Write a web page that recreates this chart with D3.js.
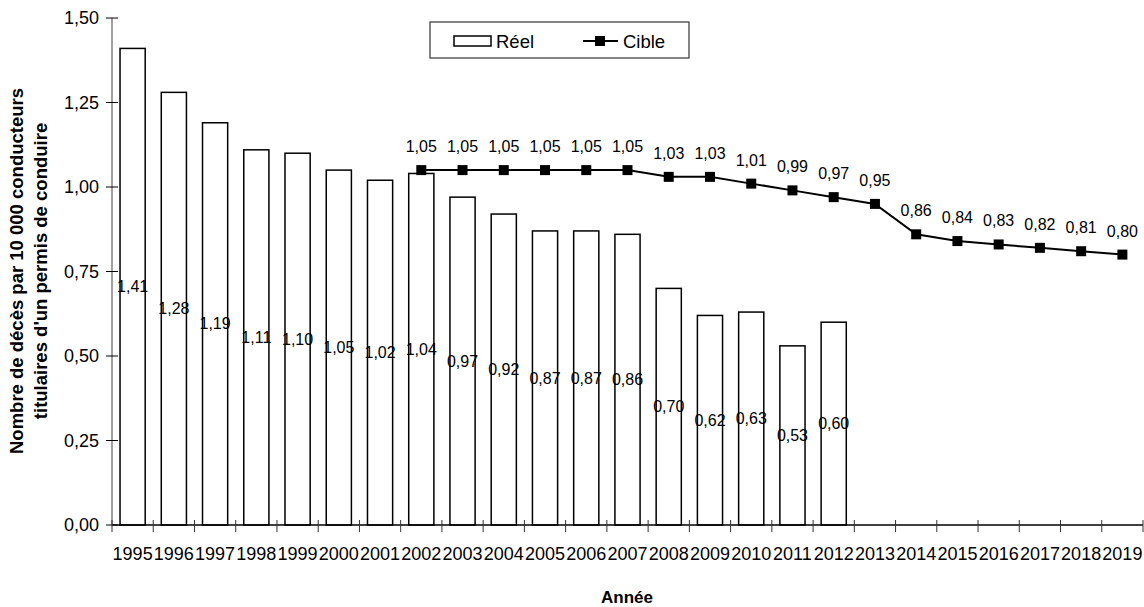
<!DOCTYPE html>
<html>
<head>
<meta charset="utf-8">
<script src="https://cdn.jsdelivr.net/npm/d3@7/dist/d3.min.js"></script>
<style>
  body { margin: 0; background: #fff; }
  svg { display: block; font-family: "Liberation Sans", Arial, sans-serif; }
</style>
</head>
<body>
<svg id="chart" width="1144" height="607"></svg>
<script>
const years = ["1995","1996","1997","1998","1999","2000","2001","2002","2003","2004","2005","2006","2007","2008","2009","2010","2011","2012","2013","2014","2015","2016","2017","2018","2019"];
const reelYears = ["1995","1996","1997","1998","1999","2000","2001","2002","2003","2004","2005","2006","2007","2008","2009","2010","2011","2012"];
const reelValues = [1.41,1.28,1.19,1.11,1.10,1.05,1.02,1.04,0.97,0.92,0.87,0.87,0.86,0.70,0.62,0.63,0.53,0.60];
const cibleYears = ["2002","2003","2004","2005","2006","2007","2008","2009","2010","2011","2012","2013","2014","2015","2016","2017","2018","2019"];
const cibleValues = [1.05,1.05,1.05,1.05,1.05,1.05,1.03,1.03,1.01,0.99,0.97,0.95,0.86,0.84,0.83,0.82,0.81,0.80];
const yTicks = [0,0.25,0.5,0.75,1.0,1.25,1.5];

const svg = d3.select("#chart");
const m = {left:112, right:1143, top:18, bottom:525};
const x = d3.scaleBand().domain(years).range([m.left, m.right]).paddingInner(0.39).paddingOuter(0.195);
const xTick = d3.scaleBand().domain(years).range([m.left, m.right]);
const y = d3.scaleLinear().domain([0,1.5]).range([m.bottom, m.top]);
const fmt = v => d3.format(".2f")(v).replace(".", ",");

// Y axis
const yAxis = svg.append("g");
yAxis.append("line").attr("x1", m.left).attr("x2", m.left).attr("y1", y(1.5)).attr("y2", m.bottom)
  .attr("stroke", "#808080").attr("stroke-width", 1.5);
yAxis.selectAll("line.t").data(yTicks).join("line").attr("class","t")
  .attr("x1", m.left - 6).attr("x2", m.left + 6)
  .attr("y1", d => y(d)).attr("y2", d => y(d)).attr("stroke", "#000").attr("stroke-width", 1);
yAxis.selectAll("text").data(yTicks).join("text")
  .attr("x", 99).attr("y", d => y(d)).attr("dy", "0.35em").attr("text-anchor", "end")
  .attr("font-size", 18).attr("fill", "#000").text(d => fmt(d));

// Bars
svg.append("g").selectAll("rect").data(reelYears.map((yr,i)=>({yr, v: reelValues[i]}))).join("rect")
  .attr("x", d => x(d.yr)).attr("width", x.bandwidth())
  .attr("y", d => y(d.v)).attr("height", d => y(0) - y(d.v))
  .attr("fill", "#fff").attr("stroke", "#000").attr("stroke-width", 1.5);

// X axis
const xAxis = svg.append("g");
xAxis.append("line").attr("x1", m.left).attr("x2", m.right).attr("y1", m.bottom).attr("y2", m.bottom)
  .attr("stroke", "#000").attr("stroke-width", 1.5);
const tickPos = years.map(yr => xTick(yr)).concat([m.right]);
xAxis.selectAll("line.t").data(tickPos).join("line").attr("class","t")
  .attr("x1", d => d).attr("x2", d => d).attr("y1", m.bottom - 5).attr("y2", m.bottom + 7)
  .attr("stroke", "#333").attr("stroke-width", 1);
xAxis.selectAll("text").data(years).join("text")
  .attr("x", d => x(d) + x.bandwidth()/2).attr("y", 559.5).attr("text-anchor", "middle")
  .attr("font-size", 18).attr("fill", "#000").text(d => d);

// Bar labels
svg.append("g").selectAll("text").data(reelYears.map((yr,i)=>({yr, v: reelValues[i]}))).join("text")
  .attr("x", d => x(d.yr) + x.bandwidth()/2).attr("y", d => (y(d.v) + y(0))/2).attr("dy", "0.35em")
  .attr("text-anchor", "middle").attr("font-size", 16).attr("fill", "#000").text(d => fmt(d.v));

// Line
const cData = cibleYears.map((yr,i)=>({yr, v: cibleValues[i]}));
const cx = d => x(d.yr) + x.bandwidth()/2;
svg.append("path").datum(cData)
  .attr("d", d3.line().x(cx).y(d => y(d.v)))
  .attr("fill", "none").attr("stroke", "#000").attr("stroke-width", 2);
svg.append("g").selectAll("rect").data(cData).join("rect")
  .attr("x", d => cx(d) - 5).attr("y", d => y(d.v) - 5).attr("width", 10).attr("height", 10).attr("fill", "#000");
svg.append("g").selectAll("text").data(cData).join("text")
  .attr("x", cx).attr("y", d => y(d.v) - 18).attr("text-anchor", "middle")
  .attr("font-size", 16).attr("fill", "#000").text(d => fmt(d.v));

// Axis titles
svg.append("text").attr("transform", "translate(23,271) rotate(-90)").attr("text-anchor", "middle")
  .attr("font-size", 18.5).attr("font-weight", "bold").text("Nombre de décès par 10 000 conducteurs");
svg.append("text").attr("transform", "translate(47,271) rotate(-90)").attr("text-anchor", "middle")
  .attr("font-size", 18.5).attr("font-weight", "bold").text("titulaires d'un permis de conduire");
svg.append("text").attr("x", 627).attr("y", 603).attr("text-anchor", "middle")
  .attr("font-size", 17).attr("font-weight", "bold").text("Année");

// Legend
const lg = svg.append("g");
lg.append("rect").attr("x", 430).attr("y", 22).attr("width", 259).attr("height", 36)
  .attr("fill", "#fff").attr("stroke", "#333").attr("stroke-width", 1.2);
lg.append("rect").attr("x", 454).attr("y", 36).attr("width", 37).attr("height", 10)
  .attr("fill", "#fff").attr("stroke", "#000").attr("stroke-width", 1.5);
lg.append("text").attr("x", 496).attr("y", 47.5).attr("font-size", 18.5).text("Réel");
lg.append("line").attr("x1", 583).attr("x2", 618).attr("y1", 41).attr("y2", 41).attr("stroke", "#000").attr("stroke-width", 2);
lg.append("rect").attr("x", 595).attr("y", 36).attr("width", 10).attr("height", 10).attr("fill", "#000");
lg.append("text").attr("x", 623).attr("y", 47.5).attr("font-size", 18.5).text("Cible");
</script>
</body>
</html>
